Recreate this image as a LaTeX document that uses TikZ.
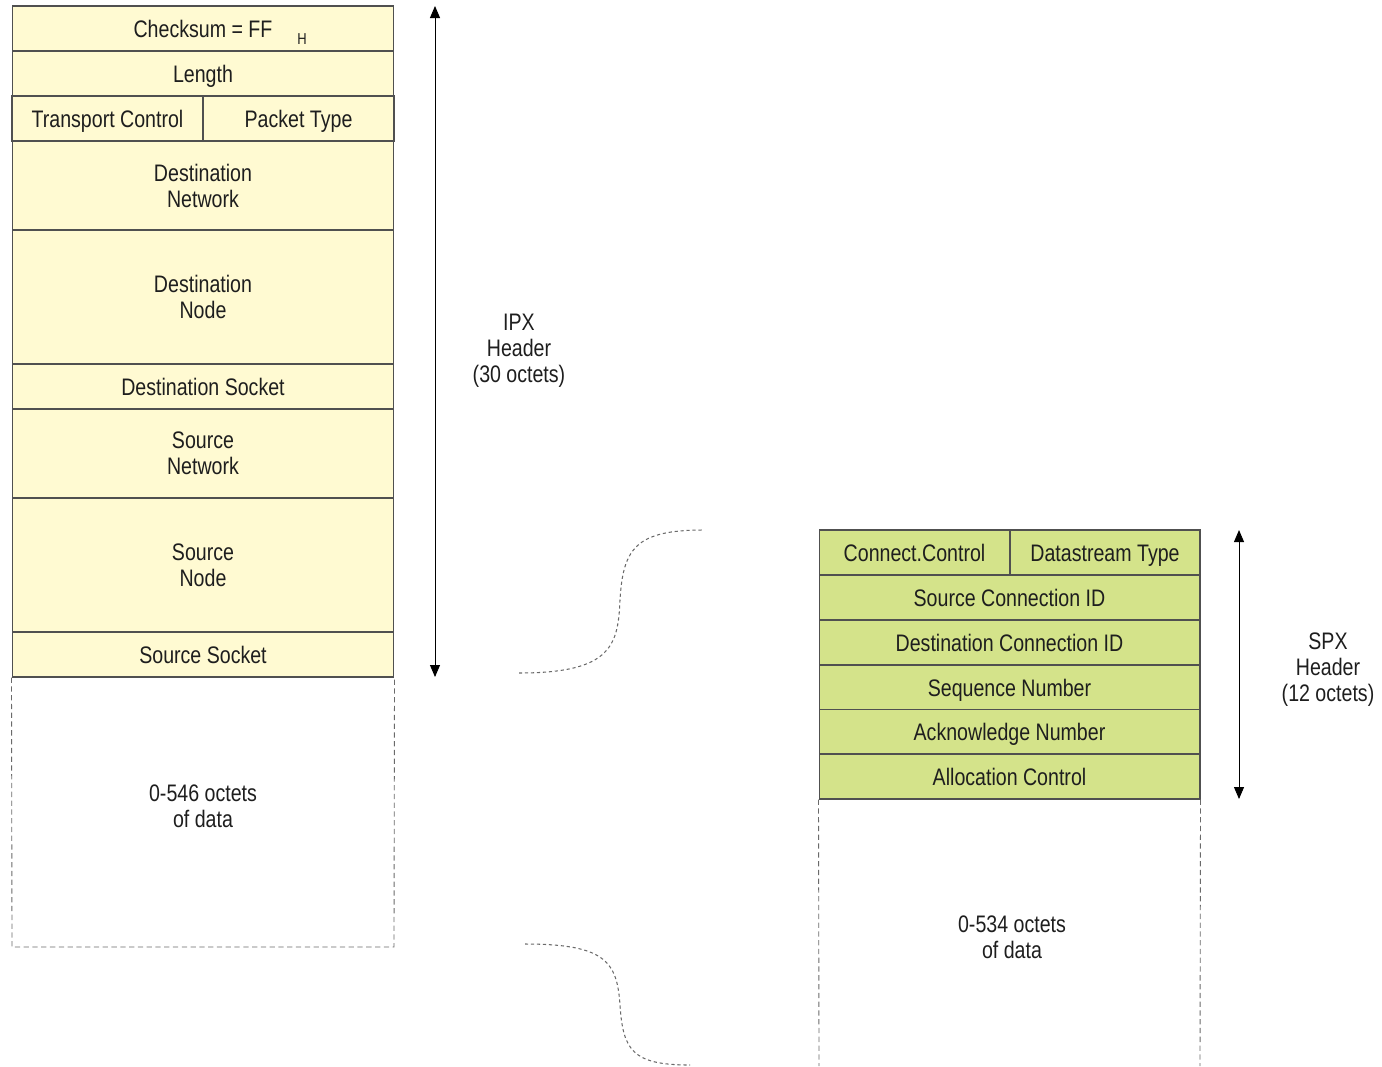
\documentclass[tikz,border=0pt]{standalone}
\usepackage{fontspec}
\setmainfont{Liberation Sans}[FakeStretch=0.82]
\usepackage{tikz}
\usetikzlibrary{arrows.meta, positioning, calc}
\definecolor{ipxfill}{HTML}{FFFAD2}
\definecolor{spxfill}{HTML}{D4E38A}
\definecolor{edgegray}{HTML}{505050}
\definecolor{dashgray}{HTML}{6A6A6A}
\definecolor{txtdark}{HTML}{1E1E1E}

\begin{document}
\begin{tikzpicture}[
    x=0.02cm, y=-0.02cm,
    every node/.style={font=\fontsize{13.6}{14.8}\selectfont, text=txtdark, align=center},
    ipxrow/.style={rectangle, draw=edgegray, line width=0.6pt, fill=ipxfill, inner sep=0pt, minimum width=7.64cm, minimum height=0.9cm, text height=9.7pt, text depth=0pt},
    ipxhalf/.style={ipxrow, minimum width=3.82cm},
    ipxtall/.style={ipxrow, text height=, text depth=},
    spxrow/.style={rectangle, draw=edgegray, line width=0.6pt, fill=spxfill, inner sep=0pt, minimum width=7.62cm, minimum height=0.9cm, text height=9.7pt, text depth=0pt},
    spxhalf/.style={spxrow, minimum width=3.82cm},
    datadash/.style={dashgray, line width=0.5pt, dash pattern=on 3pt off 2pt},
    linkdash/.style={dashgray, line width=0.6pt, dash pattern=on 1.8pt off 1.6pt},
    span/.style={{Triangle[length=2.4mm,width=2mm]}-{Triangle[length=2.4mm,width=2mm]}, line width=0.5pt, black}
]
\useasboundingbox (0,0) rectangle (1382,1066);

% IPX header
\node[ipxrow] (chk) at (203,28.5) {Checksum = FF\rlap{\hspace{0.5cm}\raisebox{-0.6ex}{\fontsize{9}{9}\selectfont H}}};
\node[ipxrow] (len) at (203,73.5) {Length};
\node[ipxhalf] (tc) at (107.5,118.5) {Transport Control};
\node[ipxhalf] (pt) at (298.5,118.5) {Packet Type};
\node[ipxtall, minimum height=1.78cm] (dnet) at (203,185.5) {Destination\\Network};
\node[ipxtall, minimum height=2.68cm] (dnode) at (203,297) {Destination\\Node};
\node[ipxrow] (dsock) at (203,386.5) {Destination Socket};
\node[ipxtall, minimum height=1.78cm] (snet) at (203,453.5) {Source\\Network};
\node[ipxtall, minimum height=2.68cm] (snode) at (203,565) {Source\\Node};
\node[ipxrow] (ssock) at (203,654.5) {Source Socket};

% IPX data
\draw[datadash] (ssock.south west) -- (12,947) -- (394,947) -- (ssock.south east);
\node (ipxdata) at (203,806) {0-546 octets\\of data};

% IPX span
\coordinate (ipxtop) at (435,6);
\coordinate (ipxbot) at (435,677);
\draw[span] (ipxtop) -- (ipxbot);
\node (ipxlbl) at (519,351) {IPX\\Header\\(30 octets)};

% SPX header
\node[spxhalf] (cc) at (914.5,552.5) {Connect.Control};
\node[spxhalf, minimum width=3.8cm] (dt) at (1105,552.5) {Datastream Type};
\node[spxrow] (scid) at (1009.5,597.5) {Source Connection ID};
\node[spxrow] (dcid) at (1009.5,642.5) {Destination Connection ID};
\node[spxrow] (seq) at (1009.5,687.5) {Sequence Number};
\node[spxrow] (ack) at (1009.5,732) {Acknowledge Number};
\node[spxrow] (alloc) at (1009.5,776.5) {Allocation Control};

% SPX data
\draw[datadash] (alloc.south west) -- (819,1066);
\draw[datadash] (alloc.south east) -- (1200,1066);
\node (spxdata) at (1012,937) {0-534 octets\\of data};

% SPX span
\coordinate (spxtop) at (1239,530);
\coordinate (spxbot) at (1239,799);
\draw[span] (spxtop) -- (spxbot);
\node (spxlbl) at (1328,670) {SPX\\Header\\(12 octets)};

% links
\coordinate (upA) at (519,673);
\coordinate (upB) at (704,530);
\coordinate (loA) at (525,944);
\coordinate (loB) at (690,1065);
\draw[linkdash] (upA) .. controls (612,673) and (618,645) .. (620,600) .. controls (623,548) and (636,530) .. (upB);
\draw[linkdash] (loA) .. controls (606,944) and (617,962) .. (620,1005) .. controls (623,1050) and (632,1065) .. (loB);

\end{tikzpicture}
\end{document}
